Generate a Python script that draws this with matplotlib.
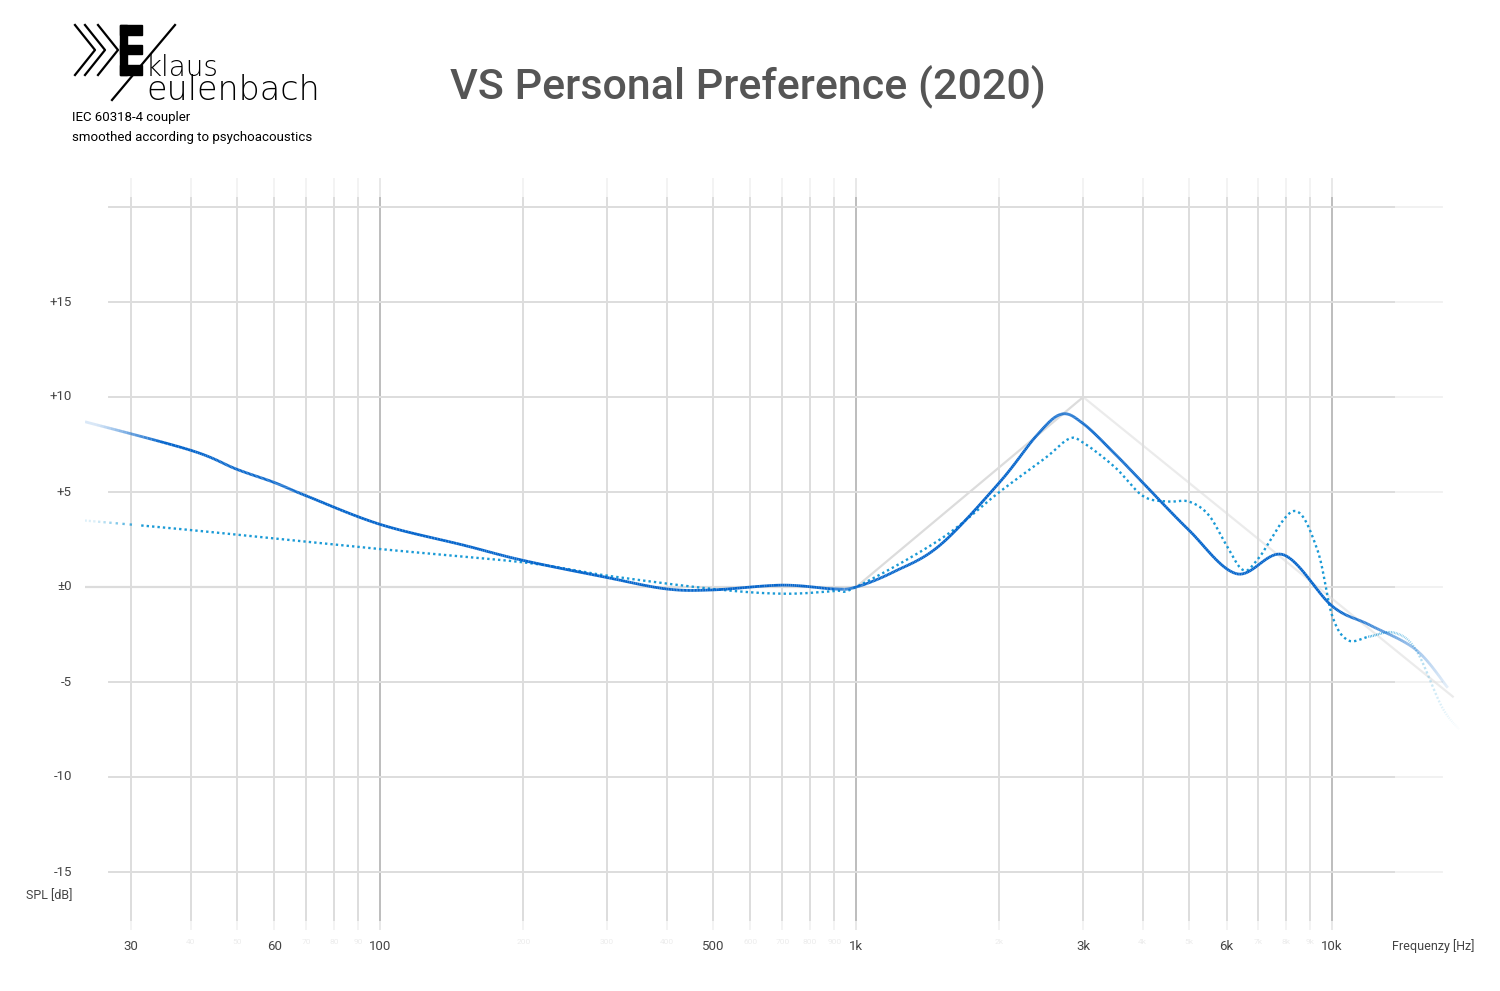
import numpy as np
import matplotlib
matplotlib.use("Agg")
import matplotlib.pyplot as plt
from matplotlib.collections import LineCollection
from matplotlib.colors import to_rgba
from matplotlib.transforms import blended_transform_factory
from matplotlib.patches import Rectangle

# ---- data ----
solid_f = [24, 40, 50, 60, 70, 100, 150, 200, 300, 400, 500, 700, 900, 1000, 1200, 1500, 2000, 2400, 2700, 3000, 3500, 4000, 5000, 6300, 7900, 10000, 12000, 15000, 17500]
solid_db = [8.7, 7.2, 6.2, 5.5, 4.8, 3.3, 2.2, 1.4, 0.5, -0.1, -0.15, 0.1, -0.1, 0.0, 0.8, 2.2, 5.5, 8.0, 9.1, 8.6, 7.0, 5.5, 3.0, 0.7, 1.7, -1.0, -2.0, -3.3, -5.3]
dot_f = [24, 40, 100, 200, 300, 500, 700, 900, 1000, 1500, 2000, 2500, 2800, 3000, 3500, 4000, 4500, 5000, 5500, 6000, 6500, 7000, 8300, 9300, 10000, 10800, 12000, 13500, 15000, 17000, 18500]
dot_db = [3.5, 3.0, 2.0, 1.3, 0.6, -0.1, -0.35, -0.2, 0.0, 2.5, 5.0, 6.8, 7.8, 7.6, 6.3, 4.8, 4.5, 4.5, 3.8, 2.2, 0.9, 1.5, 4.0, 2.0, -1.5, -2.8, -2.6, -2.4, -3.3, -6.3, -7.5]
target_f = [24, 1000, 3000, 18000]
target_db = [0, 0, 10, -5.8]
xtick_vals = [30, 40, 50, 60, 70, 80, 90, 100, 200, 300, 400, 500, 600, 700, 800, 900, 1000, 2000, 3000, 4000, 5000, 6000, 7000, 8000, 9000, 10000]
xtick_main = {30: "30", 60: "60", 100: "100", 500: "500", 1000: "1k", 3000: "3k", 6000: "6k", 10000: "10k"}
ytick_vals = [15, 10, 5, 0, -5, -10, -15]
ytick_labels = ["+15", "+10", "+5", "\u00b10", "-5", "-10", "-15"]

fig = plt.figure(figsize=(15, 9.91), dpi=100)
ax = fig.add_axes([85/1500, 61/991, 1390/1500, 760/991])
ax.set_xscale("log")
ax.set_xlim(24.0, 19960)
ax.set_ylim(-18.05, 21.95)
ax.axis("off")

# grid
for f in xtick_vals:
    major = f in (100, 1000, 10000)
    c = "#bdbdbd" if major else "#dddddd"
    ax.plot([f, f], [-17.5, 20.5], color=c, lw=1.4, zorder=1)
    ax.plot([f, f], [20.5, 21.5], color=c, lw=1.4, alpha=0.35, zorder=1)
    ax.plot([f, f], [-18.05, -17.5], color=c, lw=1.4, alpha=0.35, zorder=1)
for y in [20, 15, 10, 5, 0, -5, -10, -15]:
    ax.plot([27, 13500], [y, y], color="#dddddd", lw=1.4, zorder=1)
    ax.plot([13500, 17000], [y, y], color="#dddddd", lw=1.4, alpha=0.4, zorder=1)

def smooth(fs, ds):
    lx = np.log10(fs)
    pts = list(zip(lx, ds))
    P = [pts[0]] + pts + [pts[-1]]
    res_x, res_y = [], []
    for i in range(1, len(P) - 2):
        p0, p1, p2, p3 = map(np.array, (P[i-1], P[i], P[i+1], P[i+2]))
        t = np.linspace(0, 1, 30, endpoint=False)[:, None]
        c = 0.5 * ((2*p1) + (-p0+p2)*t + (2*p0-5*p1+4*p2-p3)*t**2 + (-p0+3*p1-3*p2+p3)*t**3)
        res_x.extend(c[:, 0]); res_y.extend(c[:, 1])
    res_x.append(lx[-1]); res_y.append(ds[-1])
    return 10**np.array(res_x), np.array(res_y)

def faded(fx, dy, color, lw, fade_lo=None, fade_hi=None, z=3, amin=0.1):
    lx = np.log10(fx)
    alpha = np.ones_like(lx)
    if fade_lo is not None:
        a, b = np.log10(fade_lo)
        alpha = np.minimum(alpha, np.clip((lx - a) / (b - a), amin, 1))
    if fade_hi is not None:
        a, b = np.log10(fade_hi)
        alpha = np.minimum(alpha, np.clip((b - lx) / (b - a), 0.0, 1))
    segs = [[(fx[i], dy[i]), (fx[i+1], dy[i+1])] for i in range(len(fx)-1)]
    cols = [to_rgba(color, (alpha[i] + alpha[i+1]) / 2) for i in range(len(fx)-1)]
    ax.add_collection(LineCollection(segs, colors=cols, linewidths=lw, zorder=z))

faded(np.array(target_f, float), np.array(target_db, float), "#dcdcdc", 1.6, fade_hi=(12000, 19000), z=2)

fx, dy = smooth(dot_f, dot_db)
m = (fx > 31) & (fx < 12000)
ax.plot(fx[m], dy[m], color="#1a9ad6", lw=1.7, ls=(0, (1, 1.3)), zorder=3)
for sel, kw in [((fx <= 31.5), dict(fade_lo=(24, 31.5))), ((fx >= 11900), dict(fade_hi=(11500, 19000)))]:
    xs, ys = fx[sel], dy[sel]
    lx = np.log10(xs)
    if "fade_lo" in kw:
        a, b = np.log10(kw["fade_lo"]); al = np.clip((lx - a) / (b - a), 0.15, 1)
    else:
        a, b = np.log10(kw["fade_hi"]); al = np.clip((b - lx) / (b - a), 0, 1) ** 1.3
    for i in range(0, len(xs) - 1, 2):
        ax.plot(xs[i:i+2], ys[i:i+2], color="#1a9ad6", alpha=float(al[i]), lw=1.7, ls=(0, (1, 1.3)), zorder=3)

fx, dy = smooth(solid_f, solid_db)
faded(fx, dy, "#0766cc", 2.0, fade_lo=(24, 35), fade_hi=(10500, 18500), z=4, amin=0.15)

# tick labels
tr = blended_transform_factory(ax.transData, fig.transFigure)
for f in xtick_vals:
    if f in xtick_main:
        ax.text(f, 1 - 946/991, xtick_main[f], transform=tr, ha="center", va="center", fontsize=9.5, color="#444", family="Roboto")
    else:
        lab = str(f) if f < 1000 else f"{f//1000}k"
        ax.text(f, 1 - 942/991, lab, transform=tr, ha="center", va="center", fontsize=6, color="#ececec", family="Roboto")
for v, l in zip(ytick_vals, ytick_labels):
    fig.text(72/1500, 1 - (587 - 19*v)/991, l, ha="right", va="center", fontsize=9.5, color="#444", family="Roboto")
fig.text(72/1500, 1 - 896/991, "SPL [dB]", ha="right", va="center", fontsize=9, color="#444", family="Roboto")
fig.text(1474/1500, 1 - 946/991, "Frequenzy [Hz]", ha="right", va="center", fontsize=9, color="#444", family="Roboto")

# title
fig.text(748/1500, 1 - 86/991, "VS Personal Preference (2020)", ha="center", va="center", fontsize=31, color="#555555", family="Roboto", fontweight="medium")

# logo
def P(x, y):
    return (x/1500, 1 - y/991)
lk = dict(color="black", lw=1.6, transform=fig.transFigure)
for seg in [[(75, 25), (95, 50), (75, 75)], [(85, 25), (105, 50), (85, 75)], [(98, 25), (118, 50), (98, 75)],
            [(175, 25), (112, 100)]]:
    xs, ys = zip(*[P(*p) for p in seg])
    fig.add_artist(plt.Line2D(xs, ys, **lk))
for (y0, h) in [(25, 10), (45, 9), (65, 10)]:
    fig.add_artist(Rectangle(P(120, y0 + h), 22/1500, h/991, color="black", transform=fig.transFigure))
fig.add_artist(Rectangle(P(120, 75), 7/1500, 50/991, color="black", transform=fig.transFigure))
fig.text(146/1500, 1 - 76/991, "klaus", fontsize=20, family="DejaVu Sans", fontweight="light", va="baseline", ha="left")
fig.text(146/1500, 1 - 100/991, "eulenbach", fontsize=24, family="DejaVu Sans", fontweight="light", va="baseline", ha="left")
fig.text(72/1500, 1 - 118/991, "IEC 60318-4 coupler", fontsize=9.5, family="Roboto", va="center", ha="left")
fig.text(72/1500, 1 - 137/991, "smoothed according to psychoacoustics", fontsize=9.5, family="Roboto", va="center", ha="left")

fig.savefig("out.png", dpi=100, facecolor="white")
